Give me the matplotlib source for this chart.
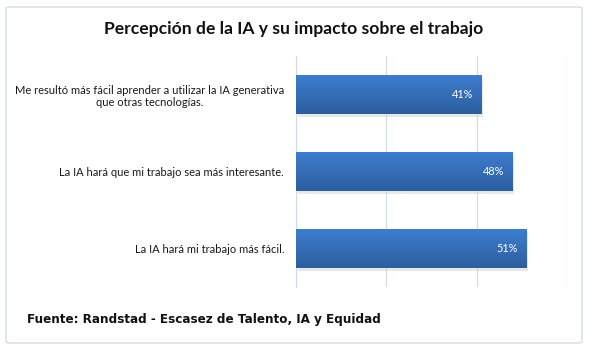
import matplotlib
matplotlib.use('Agg')
import matplotlib.pyplot as plt
import numpy as np
from matplotlib.patches import FancyBboxPatch

# survey results (% of respondents agreeing)
categories = [
    'Me resultó más fácil aprender a utilizar la IA generativa\nque otras tecnologías.',
    'La IA hará que mi trabajo sea más interesante.',
    'La IA hará mi trabajo más fácil.',
]
values = [41, 48, 51]
value_labels = ['41%', '48%', '51%']

title = 'Percepción de la IA y su impacto sobre el trabajo'
source = 'Fuente: Randstad - Escasez de Talento, IA y Equidad'

fig = plt.figure(figsize=(5.89, 3.5), dpi=100)
fig.patch.set_facecolor('white')

# rounded frame around the whole chart
frame = FancyBboxPatch((6 / 589, 7 / 350), 576 / 589, 336 / 350,
                       boxstyle='round,pad=0,rounding_size=0.006',
                       transform=fig.transFigure, facecolor='white',
                       edgecolor='#d5dce6', linewidth=1.0, zorder=-5)
fig.patches.append(frame)

ax = fig.add_axes([296 / 589, 1 - 287 / 350, (567 - 296) / 589, (287 - 56) / 350])
ax.set_facecolor('none')
ax.set_zorder(2)

y = np.arange(len(categories))
bar_h = 0.5
bars = ax.barh(y, values, height=bar_h, color='#3670c0', zorder=3)

# vertical gradient + soft shadow on every bar
grad = np.linspace(0, 1, 64).reshape(-1, 1)
cmap = matplotlib.colors.LinearSegmentedColormap.from_list('bar', ['#3d7dcf', '#2d5e9e'])
for b in bars:
    x0, w = b.get_x(), b.get_width()
    y0, h = b.get_y(), b.get_height()
    ax.add_patch(plt.Rectangle((x0 + 0.35, y0 + 0.04), w, h, color='#c9ccd2',
                               alpha=0.45, zorder=2, lw=0))
    ax.imshow(grad, extent=(x0, x0 + w, y0 + h, y0), cmap=cmap,
              aspect='auto', zorder=3.5, origin='upper')

for b, lab in zip(bars, value_labels):
    ax.text(b.get_width() - 1.8, b.get_y() + b.get_height() / 2, lab,
            ha='right', va='center', color='white', fontsize=7.8,
            family='Lato', zorder=5)

ax.set_xlim(0, 60)
ax.set_ylim(2.5, -0.5)
ax.set_xticks([0, 20, 40, 60])
ax.xaxis.grid(True, color='#cfdbe7', linewidth=0.9, zorder=0)
ax.tick_params(axis='x', length=0, labelbottom=False)
ax.set_yticks(y)
ax.set_yticklabels(categories, fontsize=8.05, family='Lato', color='#1a1a1a',
                   multialignment='center', linespacing=1.15)
ax.tick_params(axis='y', length=0, pad=8.6)
for s in ['top', 'right', 'bottom']:
    ax.spines[s].set_visible(False)
ax.spines['left'].set_color('#cfdbe7')

fig.text(294 / 589, 1 - 29 / 350, title, ha='center', va='center',
         fontsize=12.6, fontweight='bold', family='Lato', color='#111111')
fig.text(27 / 589, 1 - 320 / 350, source, ha='left', va='center',
         fontsize=8.65, fontweight='bold', family='DejaVu Sans', color='#111111')

fig.savefig('out.png', dpi=100)
